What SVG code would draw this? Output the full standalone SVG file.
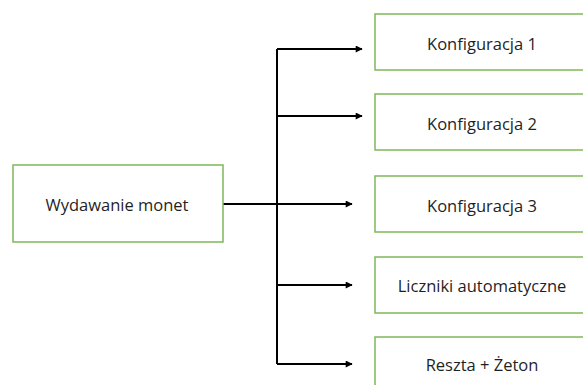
<svg xmlns="http://www.w3.org/2000/svg" width="583" height="385" viewBox="0 0 583 385">
<style>
.box{fill:#fff;stroke:#7DB85A;stroke-width:1.5}
.lbl{font-family:"Open Sans","Liberation Sans",sans-serif;font-size:16.5px;fill:#1f1f1f;text-anchor:middle;dominant-baseline:central}
.ln{fill:none;stroke:#000;stroke-width:2}
</style>
<defs>
<marker id="ah" viewBox="0 0 10 10" refX="9" refY="5" markerWidth="9" markerHeight="7" markerUnits="userSpaceOnUse" orient="auto"><path d="M0,0 L10,5 L0,10 z" fill="#000"/></marker>
</defs>
<rect width="583" height="385" fill="#fff"/>
<g id="connectors">
<path class="ln" d="M223,204 H277"/>
<path class="ln" d="M277,49 V364"/>
<path class="ln" d="M277,49 H362" marker-end="url(#ah)"/>
<path class="ln" d="M277,116 H362" marker-end="url(#ah)"/>
<path class="ln" d="M277,204 H352" marker-end="url(#ah)"/>
<path class="ln" d="M277,285 H352" marker-end="url(#ah)"/>
<path class="ln" d="M277,364 H352" marker-end="url(#ah)"/>
</g>
<g id="n-main"><rect class="box" x="13" y="165" width="210" height="77"/><text class="lbl" x="117" y="204">Wydawanie monet</text></g>
<g id="n-k1"><rect class="box" x="375" y="14" width="215" height="56"/><text class="lbl" x="482" y="43">Konfiguracja 1</text></g>
<g id="n-k2"><rect class="box" x="375" y="94" width="215" height="56"/><text class="lbl" x="482" y="123">Konfiguracja 2</text></g>
<g id="n-k3"><rect class="box" x="375" y="176" width="215" height="56"/><text class="lbl" x="482" y="205">Konfiguracja 3</text></g>
<g id="n-lic"><rect class="box" x="375" y="257" width="215" height="56"/><text class="lbl" x="482" y="285">Liczniki automatyczne</text></g>
<g id="n-res"><rect class="box" x="375" y="337" width="215" height="56"/><text class="lbl" x="482" y="364">Reszta + Żeton</text></g>
</svg>
